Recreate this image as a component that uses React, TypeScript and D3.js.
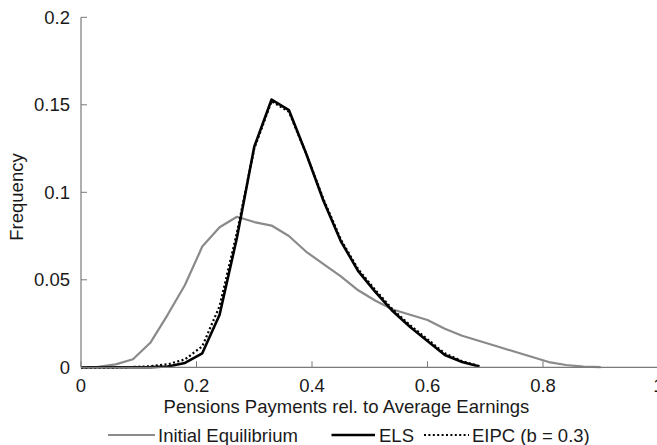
import React from "react";
import * as d3 from "d3";

const xGrid = [0, 0.03, 0.06, 0.09, 0.12, 0.15, 0.18, 0.21, 0.24, 0.27, 0.30, 0.33, 0.36, 0.39, 0.42, 0.45, 0.48, 0.51, 0.54, 0.57, 0.60, 0.63, 0.66, 0.69, 0.72, 0.75, 0.78, 0.81, 0.84, 0.87, 0.90];
const initialEq = [0, 0.0003, 0.0017, 0.0046, 0.014, 0.030, 0.047, 0.069, 0.080, 0.086, 0.083, 0.081, 0.075, 0.066, 0.059, 0.052, 0.044, 0.038, 0.033, 0.030, 0.027, 0.022, 0.018, 0.015, 0.012, 0.009, 0.006, 0.003, 0.0013, 0.0004, 0.0001];
const els = [0, 0, 0, 0, 0.0001, 0.0005, 0.0025, 0.008, 0.030, 0.074, 0.126, 0.153, 0.147, 0.122, 0.095, 0.072, 0.055, 0.043, 0.032, 0.023, 0.015, 0.007, 0.003, 0.0005];
const eipc = [0, 0, 0, 0.0002, 0.0006, 0.0017, 0.0045, 0.012, 0.035, 0.077, 0.125, 0.152, 0.146, 0.122, 0.096, 0.073, 0.056, 0.044, 0.033, 0.024, 0.016, 0.008, 0.0035, 0.0006];
const xTicks = [0, 0.2, 0.4, 0.6, 0.8, 1];
const yTicks = [0, 0.05, 0.1, 0.15, 0.2];
const xTickLabels = ["0", "0.2", "0.4", "0.6", "0.8", "1"];
const yTickLabels = ["0", "0.05", "0.1", "0.15", "0.2"];
const seriesNames = ["Initial Equilibrium", "ELS", "EIPC (b = 0.3)"];

const W = 657, H = 445;
const FONT = "'Liberation Sans', Arial, Helvetica, sans-serif";
const FS = 18.5;

export default function App() {
  const x = d3.scaleLinear().domain([0, 1]).range([81, 658.5]);
  const y = d3.scaleLinear().domain([0, 0.2]).range([367.3, 17.3]);
  const line = d3.line<[number, number]>().x(d => x(d[0])).y(d => y(d[1]));
  const mk = (vals: number[]) => vals.map((v, i) => [xGrid[i], v] as [number, number]);
  const axisColor = "#7a7a7a";
  const textColor = "#1a1a1a";
  return (
    <svg width={W} height={H} style={{ position: "absolute", left: 0, top: 0 }} fontFamily={FONT}>
      <rect width={W} height={H} fill="#fff" />
      <path d={line(mk(initialEq)) || ""} fill="none" stroke="#8a8a8a" strokeWidth={2.2} strokeLinejoin="round" />
      <path d={line(mk(els)) || ""} fill="none" stroke="#000" strokeWidth={2.6} strokeLinejoin="round" />
      <path d={line(mk(eipc)) || ""} fill="none" stroke="#000" strokeWidth={2.2} strokeDasharray="2,2.4" />
      <line x1={x(0)} x2={W} y1={y(0)} y2={y(0)} stroke={axisColor} strokeWidth={1.2} />
      <line x1={x(0)} x2={x(0)} y1={y(0)} y2={y(0.2)} stroke={axisColor} strokeWidth={1.2} />
      {xTicks.map((t, i) => (
        <g key={"xt" + i}>
          <line x1={x(t)} x2={x(t)} y1={y(0)} y2={y(0) - 6} stroke={axisColor} strokeWidth={1} />
          <text x={x(t)} y={392} textAnchor="middle" fontSize={FS} fill={textColor}>{xTickLabels[i]}</text>
        </g>
      ))}
      {yTicks.map((t, i) => (
        <g key={"yt" + i}>
          <line x1={x(0)} x2={x(0) + 6} y1={y(t)} y2={y(t)} stroke={axisColor} strokeWidth={1} />
          <text x={70} y={y(t)} dy="0.35em" textAnchor="end" fontSize={FS} fill={textColor}>{yTickLabels[i]}</text>
        </g>
      ))}
      <text x={(163 + 530) / 2} y={413} textAnchor="middle" fontSize={FS} fill={textColor}>Pensions Payments rel. to Average Earnings</text>
      <text transform={`translate(23,197) rotate(-90)`} textAnchor="middle" fontSize={FS} fill={textColor}>Frequency</text>
      <line x1={108} x2={155} y1={435} y2={435} stroke="#8a8a8a" strokeWidth={2.2} />
      <text x={158} y={442} fontSize={FS} fill={textColor}>{seriesNames[0]}</text>
      <line x1={331.5} x2={375} y1={435} y2={435} stroke="#000" strokeWidth={2.6} />
      <text x={379} y={442} fontSize={FS} fill={textColor}>{seriesNames[1]}</text>
      <line x1={424} x2={469} y1={435} y2={435} stroke="#000" strokeWidth={2.2} strokeDasharray="2,2.4" />
      <text x={472} y={442} fontSize={FS} fill={textColor}>{seriesNames[2]}</text>
    </svg>
  );
}
